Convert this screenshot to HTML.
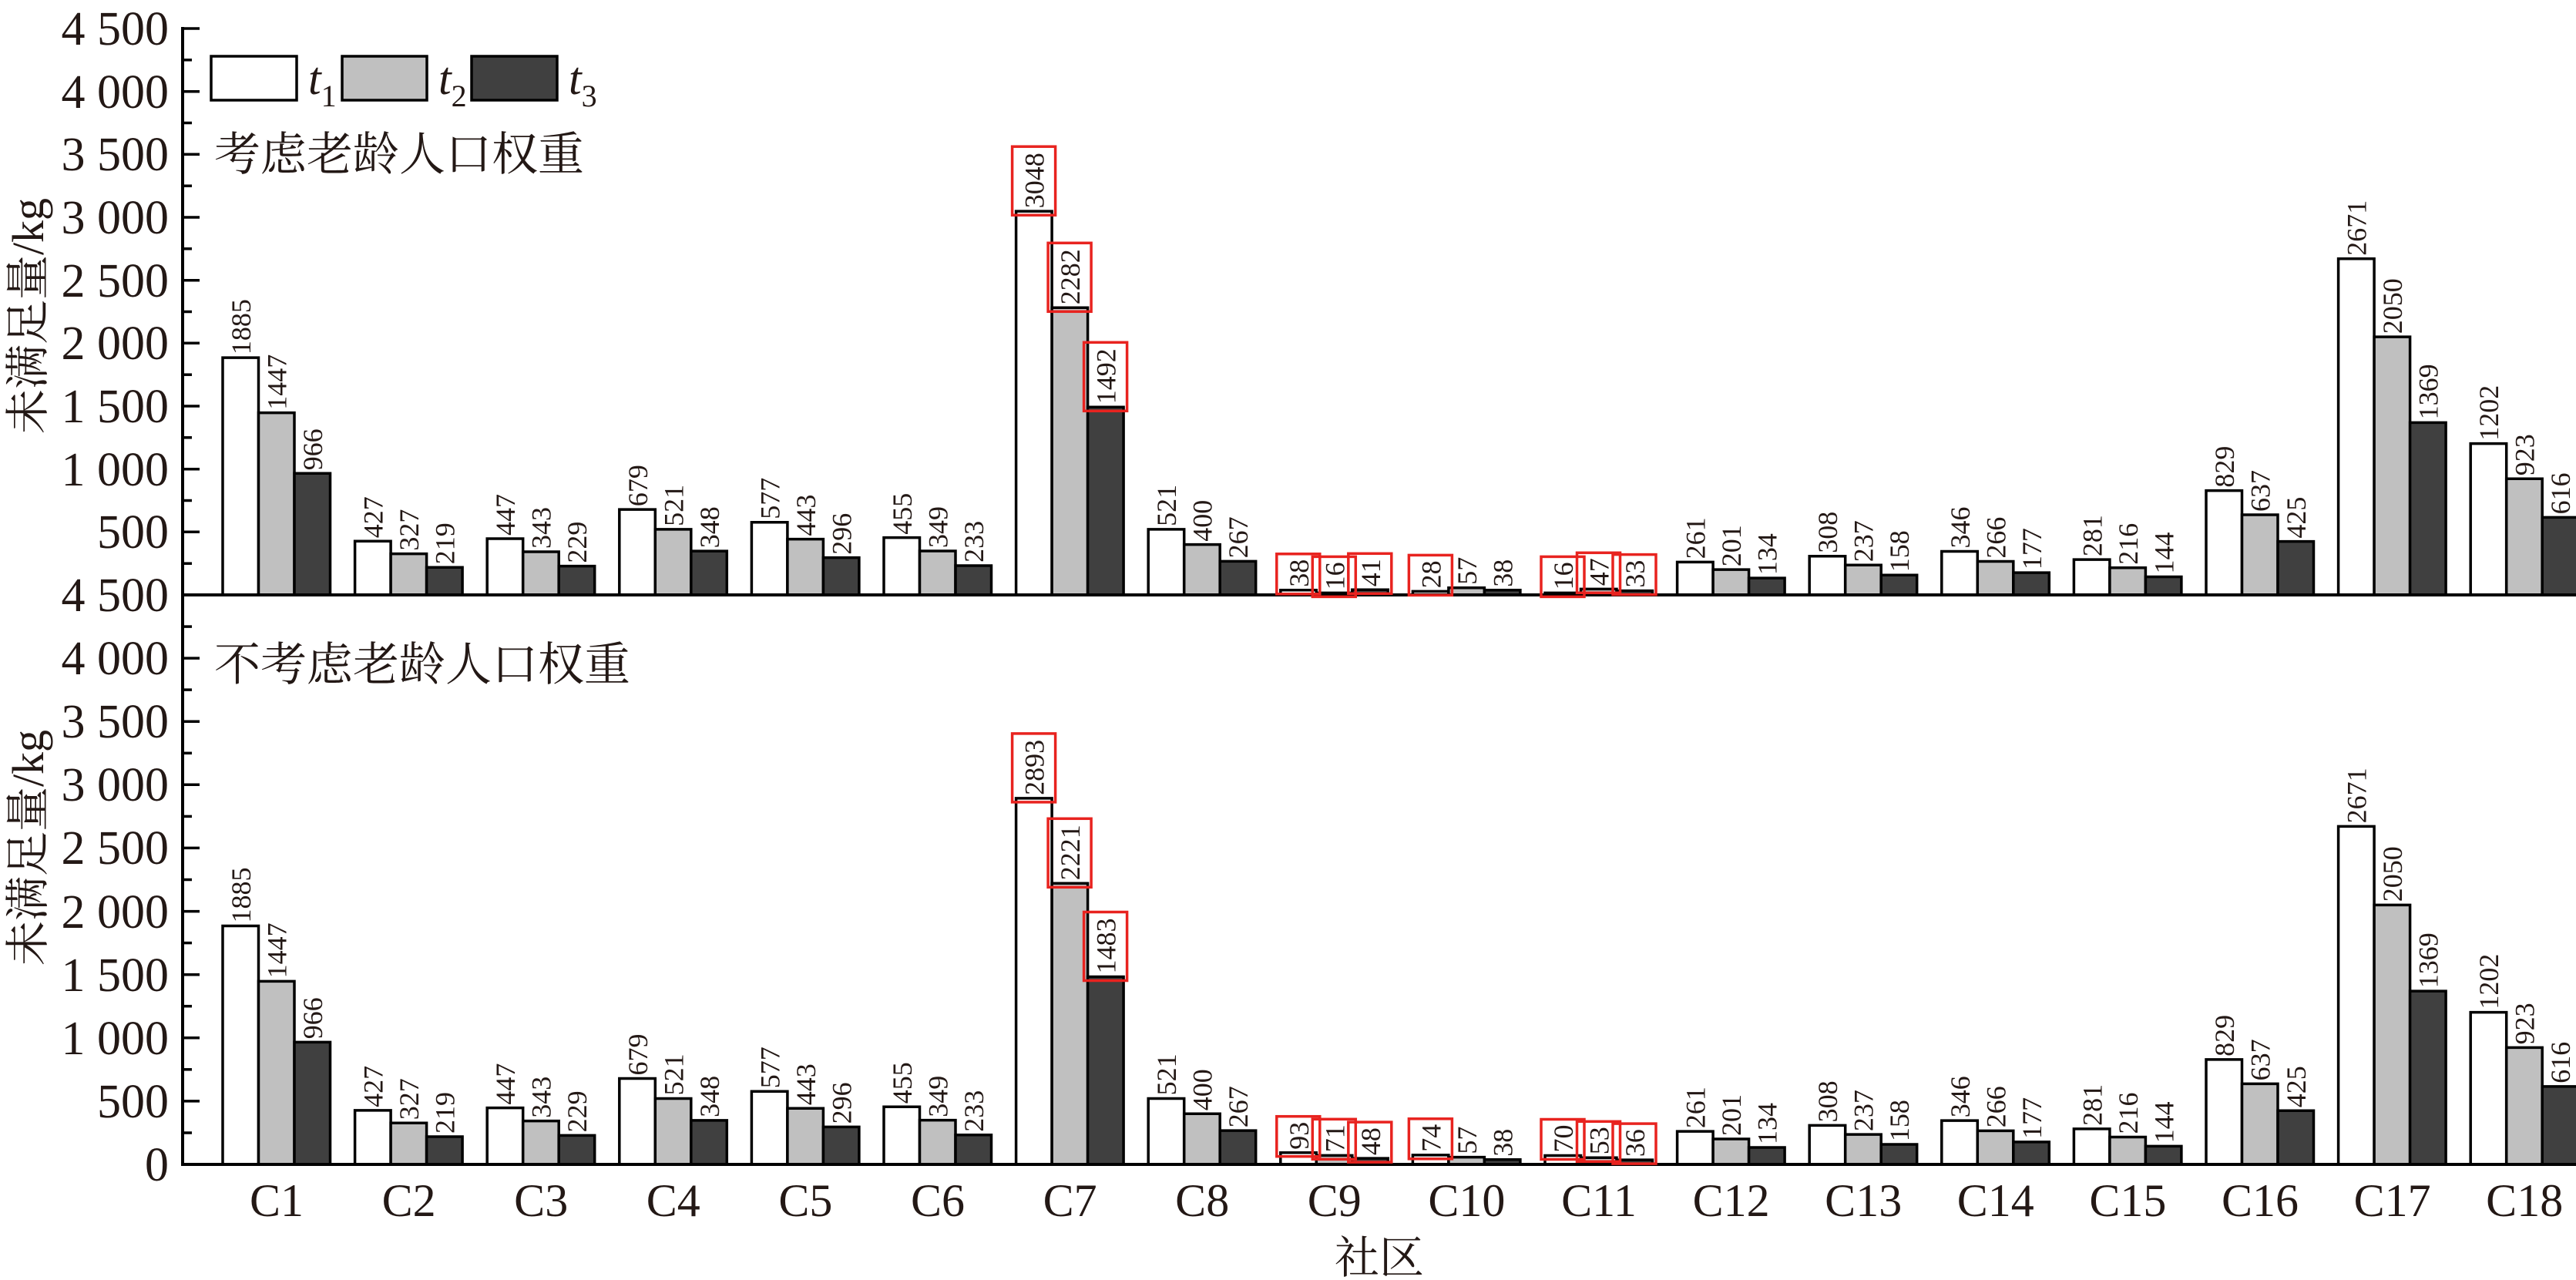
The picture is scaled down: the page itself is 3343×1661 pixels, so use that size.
<!DOCTYPE html>
<html><head><meta charset="utf-8"><style>
html,body{margin:0;padding:0;background:#fff;}
svg{display:block;}
text{font-family:"Liberation Serif","Noto Serif CJK SC",serif;fill:#231815;}
.cjk{font-family:"Liberation Serif","Noto Serif CJK SC","Noto Sans CJK SC",serif;}
.tk{font-size:62px;text-anchor:end;}
.cat{font-size:60px;text-anchor:middle;}
.v{font-size:36px;}
.b rect{stroke:#000;stroke-width:3.5;vector-effect:non-scaling-stroke;}
.w{fill:#fff}.g{fill:#c0c0c0}.d{fill:#404040}
.rb{fill:none;stroke:#e8231f;stroke-width:3.5;}
</style></head><body>
<svg width="3343" height="1661" viewBox="0 0 3343 1661" xmlns="http://www.w3.org/2000/svg">
<rect width="3343" height="1661" fill="#fff"/>

<!-- TOP PANEL BARS -->
<g class="b" transform="translate(0,772) scale(1,-0.16333)">
<rect class="w" x="289" y="0" width="46.5" height="1885"/><rect class="g" x="335.5" y="0" width="46.5" height="1447"/><rect class="d" x="382" y="0" width="46.5" height="966"/>
<rect class="w" x="460.6" y="0" width="46.5" height="427"/><rect class="g" x="507.1" y="0" width="46.5" height="327"/><rect class="d" x="553.6" y="0" width="46.5" height="219"/>
<rect class="w" x="632.2" y="0" width="46.5" height="447"/><rect class="g" x="678.7" y="0" width="46.5" height="343"/><rect class="d" x="725.2" y="0" width="46.5" height="229"/>
<rect class="w" x="803.8" y="0" width="46.5" height="679"/><rect class="g" x="850.3" y="0" width="46.5" height="521"/><rect class="d" x="896.8" y="0" width="46.5" height="348"/>
<rect class="w" x="975.4" y="0" width="46.5" height="577"/><rect class="g" x="1021.9" y="0" width="46.5" height="443"/><rect class="d" x="1068.4" y="0" width="46.5" height="296"/>
<rect class="w" x="1147" y="0" width="46.5" height="455"/><rect class="g" x="1193.5" y="0" width="46.5" height="349"/><rect class="d" x="1240" y="0" width="46.5" height="233"/>
<rect class="w" x="1318.6" y="0" width="46.5" height="3048"/><rect class="g" x="1365.1" y="0" width="46.5" height="2282"/><rect class="d" x="1411.6" y="0" width="46.5" height="1492"/>
<rect class="w" x="1490.2" y="0" width="46.5" height="521"/><rect class="g" x="1536.7" y="0" width="46.5" height="400"/><rect class="d" x="1583.2" y="0" width="46.5" height="267"/>
<rect class="w" x="1661.8" y="0" width="46.5" height="38"/><rect class="g" x="1708.3" y="0" width="46.5" height="16"/><rect class="d" x="1754.8" y="0" width="46.5" height="41"/>
<rect class="w" x="1833.4" y="0" width="46.5" height="28"/><rect class="g" x="1879.9" y="0" width="46.5" height="57"/><rect class="d" x="1926.4" y="0" width="46.5" height="38"/>
<rect class="w" x="2005" y="0" width="46.5" height="16"/><rect class="g" x="2051.5" y="0" width="46.5" height="47"/><rect class="d" x="2098" y="0" width="46.5" height="33"/>
<rect class="w" x="2176.6" y="0" width="46.5" height="261"/><rect class="g" x="2223.1" y="0" width="46.5" height="201"/><rect class="d" x="2269.6" y="0" width="46.5" height="134"/>
<rect class="w" x="2348.2" y="0" width="46.5" height="308"/><rect class="g" x="2394.7" y="0" width="46.5" height="237"/><rect class="d" x="2441.2" y="0" width="46.5" height="158"/>
<rect class="w" x="2519.8" y="0" width="46.5" height="346"/><rect class="g" x="2566.3" y="0" width="46.5" height="266"/><rect class="d" x="2612.8" y="0" width="46.5" height="177"/>
<rect class="w" x="2691.4" y="0" width="46.5" height="281"/><rect class="g" x="2737.9" y="0" width="46.5" height="216"/><rect class="d" x="2784.4" y="0" width="46.5" height="144"/>
<rect class="w" x="2863" y="0" width="46.5" height="829"/><rect class="g" x="2909.5" y="0" width="46.5" height="637"/><rect class="d" x="2956" y="0" width="46.5" height="425"/>
<rect class="w" x="3034.6" y="0" width="46.5" height="2671"/><rect class="g" x="3081.1" y="0" width="46.5" height="2050"/><rect class="d" x="3127.6" y="0" width="46.5" height="1369"/>
<rect class="w" x="3206.2" y="0" width="46.5" height="1202"/><rect class="g" x="3252.7" y="0" width="46.5" height="923"/><rect class="d" x="3299.2" y="0" width="46.5" height="616"/>
</g>

<!-- BOTTOM PANEL BARS -->
<g class="b" transform="translate(0,1511) scale(1,-0.16422)">
<rect class="w" x="289" y="0" width="46.5" height="1885"/><rect class="g" x="335.5" y="0" width="46.5" height="1447"/><rect class="d" x="382" y="0" width="46.5" height="966"/>
<rect class="w" x="460.6" y="0" width="46.5" height="427"/><rect class="g" x="507.1" y="0" width="46.5" height="327"/><rect class="d" x="553.6" y="0" width="46.5" height="219"/>
<rect class="w" x="632.2" y="0" width="46.5" height="447"/><rect class="g" x="678.7" y="0" width="46.5" height="343"/><rect class="d" x="725.2" y="0" width="46.5" height="229"/>
<rect class="w" x="803.8" y="0" width="46.5" height="679"/><rect class="g" x="850.3" y="0" width="46.5" height="521"/><rect class="d" x="896.8" y="0" width="46.5" height="348"/>
<rect class="w" x="975.4" y="0" width="46.5" height="577"/><rect class="g" x="1021.9" y="0" width="46.5" height="443"/><rect class="d" x="1068.4" y="0" width="46.5" height="296"/>
<rect class="w" x="1147" y="0" width="46.5" height="455"/><rect class="g" x="1193.5" y="0" width="46.5" height="349"/><rect class="d" x="1240" y="0" width="46.5" height="233"/>
<rect class="w" x="1318.6" y="0" width="46.5" height="2893"/><rect class="g" x="1365.1" y="0" width="46.5" height="2221"/><rect class="d" x="1411.6" y="0" width="46.5" height="1483"/>
<rect class="w" x="1490.2" y="0" width="46.5" height="521"/><rect class="g" x="1536.7" y="0" width="46.5" height="400"/><rect class="d" x="1583.2" y="0" width="46.5" height="267"/>
<rect class="w" x="1661.8" y="0" width="46.5" height="93"/><rect class="g" x="1708.3" y="0" width="46.5" height="71"/><rect class="d" x="1754.8" y="0" width="46.5" height="48"/>
<rect class="w" x="1833.4" y="0" width="46.5" height="74"/><rect class="g" x="1879.9" y="0" width="46.5" height="57"/><rect class="d" x="1926.4" y="0" width="46.5" height="38"/>
<rect class="w" x="2005" y="0" width="46.5" height="70"/><rect class="g" x="2051.5" y="0" width="46.5" height="53"/><rect class="d" x="2098" y="0" width="46.5" height="36"/>
<rect class="w" x="2176.6" y="0" width="46.5" height="261"/><rect class="g" x="2223.1" y="0" width="46.5" height="201"/><rect class="d" x="2269.6" y="0" width="46.5" height="134"/>
<rect class="w" x="2348.2" y="0" width="46.5" height="308"/><rect class="g" x="2394.7" y="0" width="46.5" height="237"/><rect class="d" x="2441.2" y="0" width="46.5" height="158"/>
<rect class="w" x="2519.8" y="0" width="46.5" height="346"/><rect class="g" x="2566.3" y="0" width="46.5" height="266"/><rect class="d" x="2612.8" y="0" width="46.5" height="177"/>
<rect class="w" x="2691.4" y="0" width="46.5" height="281"/><rect class="g" x="2737.9" y="0" width="46.5" height="216"/><rect class="d" x="2784.4" y="0" width="46.5" height="144"/>
<rect class="w" x="2863" y="0" width="46.5" height="829"/><rect class="g" x="2909.5" y="0" width="46.5" height="637"/><rect class="d" x="2956" y="0" width="46.5" height="425"/>
<rect class="w" x="3034.6" y="0" width="46.5" height="2671"/><rect class="g" x="3081.1" y="0" width="46.5" height="2050"/><rect class="d" x="3127.6" y="0" width="46.5" height="1369"/>
<rect class="w" x="3206.2" y="0" width="46.5" height="1202"/><rect class="g" x="3252.7" y="0" width="46.5" height="923"/><rect class="d" x="3299.2" y="0" width="46.5" height="616"/>
</g>

<!-- AXES -->
<g stroke="#000" stroke-width="4" fill="none">
<line x1="237" y1="35" x2="237" y2="1513"/>
<line x1="235" y1="772" x2="3343" y2="772"/>
<line x1="235" y1="1511" x2="3343" y2="1511"/>
</g>
<g stroke="#000" stroke-width="3.5">
<!-- top major -->
<line x1="237" x2="259" y1="37" y2="37"/><line x1="237" x2="259" y1="118.7" y2="118.7"/><line x1="237" x2="259" y1="200.3" y2="200.3"/><line x1="237" x2="259" y1="282" y2="282"/><line x1="237" x2="259" y1="363.7" y2="363.7"/><line x1="237" x2="259" y1="445.3" y2="445.3"/><line x1="237" x2="259" y1="527" y2="527"/><line x1="237" x2="259" y1="608.7" y2="608.7"/><line x1="237" x2="259" y1="690.3" y2="690.3"/>
<!-- top minor -->
<line x1="237" x2="249" y1="77.8" y2="77.8"/><line x1="237" x2="249" y1="159.5" y2="159.5"/><line x1="237" x2="249" y1="241.2" y2="241.2"/><line x1="237" x2="249" y1="322.8" y2="322.8"/><line x1="237" x2="249" y1="404.5" y2="404.5"/><line x1="237" x2="249" y1="486.2" y2="486.2"/><line x1="237" x2="249" y1="567.8" y2="567.8"/><line x1="237" x2="249" y1="649.5" y2="649.5"/><line x1="237" x2="249" y1="731.2" y2="731.2"/>
<!-- bottom major -->
<line x1="237" x2="259" y1="854.1" y2="854.1"/><line x1="237" x2="259" y1="936.2" y2="936.2"/><line x1="237" x2="259" y1="1018.3" y2="1018.3"/><line x1="237" x2="259" y1="1100.4" y2="1100.4"/><line x1="237" x2="259" y1="1182.6" y2="1182.6"/><line x1="237" x2="259" y1="1264.7" y2="1264.7"/><line x1="237" x2="259" y1="1346.8" y2="1346.8"/><line x1="237" x2="259" y1="1428.9" y2="1428.9"/>
<!-- bottom minor -->
<line x1="237" x2="249" y1="813.1" y2="813.1"/><line x1="237" x2="249" y1="895.1" y2="895.1"/><line x1="237" x2="249" y1="977.3" y2="977.3"/><line x1="237" x2="249" y1="1059.4" y2="1059.4"/><line x1="237" x2="249" y1="1141.5" y2="1141.5"/><line x1="237" x2="249" y1="1223.6" y2="1223.6"/><line x1="237" x2="249" y1="1305.7" y2="1305.7"/><line x1="237" x2="249" y1="1387.8" y2="1387.8"/><line x1="237" x2="249" y1="1470" y2="1470"/>
</g>

<!-- TICK LABELS -->
<g class="tk">
<text x="219" y="58">4 500</text><text x="219" y="140">4 000</text><text x="219" y="221">3 500</text><text x="219" y="303">3 000</text><text x="219" y="385">2 500</text><text x="219" y="466">2 000</text><text x="219" y="548">1 500</text><text x="219" y="630">1 000</text><text x="219" y="711">500</text>
<text x="219" y="793">4 500</text>
<text x="219" y="875">4 000</text><text x="219" y="957">3 500</text><text x="219" y="1039">3 000</text><text x="219" y="1121">2 500</text><text x="219" y="1204">2 000</text><text x="219" y="1286">1 500</text><text x="219" y="1368">1 000</text><text x="219" y="1450">500</text><text x="219" y="1532">0</text>
</g>

<!-- Y titles -->
<text class="cjk" font-size="58" text-anchor="middle" transform="translate(56,410) rotate(-90)">未满足量/kg</text>
<text class="cjk" font-size="58" text-anchor="middle" transform="translate(56,1100) rotate(-90)">未满足量/kg</text>

<!-- Legend -->
<g stroke="#000" stroke-width="3.5">
<rect x="274" y="73" width="111" height="57" fill="#fff"/>
<rect x="444" y="73" width="110" height="57" fill="#c0c0c0"/>
<rect x="612" y="73" width="111" height="57" fill="#404040"/>
</g>
<text x="400" y="122" font-size="60" font-style="italic">t<tspan font-size="40" font-style="normal" dy="16">1</tspan></text>
<text x="569" y="122" font-size="60" font-style="italic">t<tspan font-size="40" font-style="normal" dy="16">2</tspan></text>
<text x="738" y="122" font-size="60" font-style="italic">t<tspan font-size="40" font-style="normal" dy="16">3</tspan></text>

<text class="cjk" x="278" y="221" font-size="60">考虑老龄人口权重</text>
<text class="cjk" x="278" y="883" font-size="60">不考虑老龄人口权重</text>

<!-- Category labels -->
<g class="cat">
<text x="359" y="1578">C1</text><text x="530.6" y="1578">C2</text><text x="702.2" y="1578">C3</text><text x="873.8" y="1578">C4</text><text x="1045.4" y="1578">C5</text><text x="1217" y="1578">C6</text><text x="1388.6" y="1578">C7</text><text x="1560.2" y="1578">C8</text><text x="1731.8" y="1578">C9</text><text x="1903.4" y="1578">C10</text><text x="2075" y="1578">C11</text><text x="2246.6" y="1578">C12</text><text x="2418.2" y="1578">C13</text><text x="2589.8" y="1578">C14</text><text x="2761.4" y="1578">C15</text><text x="2933" y="1578">C16</text><text x="3104.6" y="1578">C17</text><text x="3276.2" y="1578">C18</text>
</g>
<text class="cjk" x="1790" y="1652" font-size="58" text-anchor="middle">社区</text>

<!-- TOP VALUE LABELS -->
<g class="v">
<text transform="translate(325,460.1) rotate(-90)">1885</text><text transform="translate(371.5,531.7) rotate(-90)">1447</text><text transform="translate(418,610.2) rotate(-90)">966</text>
<text transform="translate(496.6,698.3) rotate(-90)">427</text><text transform="translate(543.1,714.6) rotate(-90)">327</text><text transform="translate(589.6,732.2) rotate(-90)">219</text>
<text transform="translate(668.2,695) rotate(-90)">447</text><text transform="translate(714.7,712) rotate(-90)">343</text><text transform="translate(761.2,730.6) rotate(-90)">229</text>
<text transform="translate(839.8,657.1) rotate(-90)">679</text><text transform="translate(886.3,682.9) rotate(-90)">521</text><text transform="translate(932.8,711.2) rotate(-90)">348</text>
<text transform="translate(1011.4,673.8) rotate(-90)">577</text><text transform="translate(1057.9,695.6) rotate(-90)">443</text><text transform="translate(1104.4,719.7) rotate(-90)">296</text>
<text transform="translate(1183,693.7) rotate(-90)">455</text><text transform="translate(1229.5,711) rotate(-90)">349</text><text transform="translate(1276,729.9) rotate(-90)">233</text>
<text transform="translate(1354.6,270.2) rotate(-90)">3048</text><text transform="translate(1401.1,395.3) rotate(-90)">2282</text><text transform="translate(1447.6,524.3) rotate(-90)">1492</text>
<text transform="translate(1526.2,682.9) rotate(-90)">521</text><text transform="translate(1572.7,702.7) rotate(-90)">400</text><text transform="translate(1619.2,724.4) rotate(-90)">267</text>
<text transform="translate(1697.8,761.8) rotate(-90)">38</text><text transform="translate(1744.3,765.4) rotate(-90)">16</text><text transform="translate(1790.8,761.3) rotate(-90)">41</text>
<text transform="translate(1869.4,763.4) rotate(-90)">28</text><text transform="translate(1915.9,758.7) rotate(-90)">57</text><text transform="translate(1962.4,761.8) rotate(-90)">38</text>
<text transform="translate(2041,765.4) rotate(-90)">16</text><text transform="translate(2087.5,760.3) rotate(-90)">47</text><text transform="translate(2134,762.6) rotate(-90)">33</text>
<text transform="translate(2212.6,725.4) rotate(-90)">261</text><text transform="translate(2259.1,735.2) rotate(-90)">201</text><text transform="translate(2305.6,746.1) rotate(-90)">134</text>
<text transform="translate(2384.2,717.7) rotate(-90)">308</text><text transform="translate(2430.7,729.3) rotate(-90)">237</text><text transform="translate(2477.2,742.2) rotate(-90)">158</text>
<text transform="translate(2555.8,711.5) rotate(-90)">346</text><text transform="translate(2602.3,724.6) rotate(-90)">266</text><text transform="translate(2648.8,739.1) rotate(-90)">177</text>
<text transform="translate(2727.4,722.1) rotate(-90)">281</text><text transform="translate(2773.9,732.7) rotate(-90)">216</text><text transform="translate(2820.4,744.5) rotate(-90)">144</text>
<text transform="translate(2899,632.6) rotate(-90)">829</text><text transform="translate(2945.5,664) rotate(-90)">637</text><text transform="translate(2992,698.6) rotate(-90)">425</text>
<text transform="translate(3070.6,331.7) rotate(-90)">2671</text><text transform="translate(3117.1,433.2) rotate(-90)">2050</text><text transform="translate(3163.6,544.4) rotate(-90)">1369</text>
<text transform="translate(3242.2,571.7) rotate(-90)">1202</text><text transform="translate(3288.7,617.2) rotate(-90)">923</text><text transform="translate(3335.2,667.4) rotate(-90)">616</text>
</g>

<!-- BOTTOM VALUE LABELS -->
<g class="v">
<text transform="translate(325,1197.5) rotate(-90)">1885</text><text transform="translate(371.5,1269.4) rotate(-90)">1447</text><text transform="translate(418,1348.3) rotate(-90)">966</text>
<text transform="translate(496.6,1436.9) rotate(-90)">427</text><text transform="translate(543.1,1453.3) rotate(-90)">327</text><text transform="translate(589.6,1471) rotate(-90)">219</text>
<text transform="translate(668.2,1433.6) rotate(-90)">447</text><text transform="translate(714.7,1450.7) rotate(-90)">343</text><text transform="translate(761.2,1469.4) rotate(-90)">229</text>
<text transform="translate(839.8,1395.5) rotate(-90)">679</text><text transform="translate(886.3,1421.4) rotate(-90)">521</text><text transform="translate(932.8,1449.9) rotate(-90)">348</text>
<text transform="translate(1011.4,1412.2) rotate(-90)">577</text><text transform="translate(1057.9,1434.3) rotate(-90)">443</text><text transform="translate(1104.4,1458.4) rotate(-90)">296</text>
<text transform="translate(1183,1432.3) rotate(-90)">455</text><text transform="translate(1229.5,1449.7) rotate(-90)">349</text><text transform="translate(1276,1468.7) rotate(-90)">233</text>
<text transform="translate(1354.6,1031.9) rotate(-90)">2893</text><text transform="translate(1401.1,1142.3) rotate(-90)">2221</text><text transform="translate(1447.6,1263.5) rotate(-90)">1483</text>
<text transform="translate(1526.2,1421.4) rotate(-90)">521</text><text transform="translate(1572.7,1441.3) rotate(-90)">400</text><text transform="translate(1619.2,1463.2) rotate(-90)">267</text>
<text transform="translate(1697.8,1491.7) rotate(-90)">93</text><text transform="translate(1744.3,1495.3) rotate(-90)">71</text><text transform="translate(1790.8,1499.1) rotate(-90)">48</text>
<text transform="translate(1869.4,1494.8) rotate(-90)">74</text><text transform="translate(1915.9,1497.6) rotate(-90)">57</text><text transform="translate(1962.4,1500.8) rotate(-90)">38</text>
<text transform="translate(2041,1495.5) rotate(-90)">70</text><text transform="translate(2087.5,1498.3) rotate(-90)">53</text><text transform="translate(2134,1501.1) rotate(-90)">36</text>
<text transform="translate(2212.6,1464.1) rotate(-90)">261</text><text transform="translate(2259.1,1474) rotate(-90)">201</text><text transform="translate(2305.6,1485) rotate(-90)">134</text>
<text transform="translate(2384.2,1456.4) rotate(-90)">308</text><text transform="translate(2430.7,1468.1) rotate(-90)">237</text><text transform="translate(2477.2,1481.1) rotate(-90)">158</text>
<text transform="translate(2555.8,1450.2) rotate(-90)">346</text><text transform="translate(2602.3,1463.3) rotate(-90)">266</text><text transform="translate(2648.8,1477.9) rotate(-90)">177</text>
<text transform="translate(2727.4,1460.9) rotate(-90)">281</text><text transform="translate(2773.9,1471.5) rotate(-90)">216</text><text transform="translate(2820.4,1483.4) rotate(-90)">144</text>
<text transform="translate(2899,1370.9) rotate(-90)">829</text><text transform="translate(2945.5,1402.4) rotate(-90)">637</text><text transform="translate(2992,1437.2) rotate(-90)">425</text>
<text transform="translate(3070.6,1068.4) rotate(-90)">2671</text><text transform="translate(3117.1,1170.3) rotate(-90)">2050</text><text transform="translate(3163.6,1282.2) rotate(-90)">1369</text>
<text transform="translate(3242.2,1309.6) rotate(-90)">1202</text><text transform="translate(3288.7,1355.4) rotate(-90)">923</text><text transform="translate(3335.2,1405.8) rotate(-90)">616</text>
</g>

<!-- RED BOXES TOP -->
<g class="rb">
<rect x="1313.6" y="190.2" width="56" height="89"/>
<rect x="1360.1" y="315.3" width="56" height="89"/>
<rect x="1406.6" y="444.3" width="56" height="89"/>
<rect x="1656.8" y="718.8" width="56" height="52"/>
<rect x="1703.3" y="722.4" width="56" height="52"/>
<rect x="1749.8" y="718.3" width="56" height="52"/>
<rect x="1828.4" y="720.4" width="56" height="52"/>
<rect x="2000" y="722.4" width="56" height="52"/>
<rect x="2046.5" y="717.3" width="56" height="52"/>
<rect x="2093" y="719.6" width="56" height="52"/>
</g>
<!-- RED BOXES BOTTOM -->
<g class="rb">
<rect x="1313.6" y="951.9" width="56" height="89"/>
<rect x="1360.1" y="1062.3" width="56" height="89"/>
<rect x="1406.6" y="1183.5" width="56" height="89"/>
<rect x="1656.8" y="1448.7" width="56" height="52"/>
<rect x="1703.3" y="1452.3" width="56" height="52"/>
<rect x="1749.8" y="1456.1" width="56" height="52"/>
<rect x="1828.4" y="1451.8" width="56" height="52"/>
<rect x="2000" y="1452.5" width="56" height="52"/>
<rect x="2046.5" y="1455.3" width="56" height="52"/>
<rect x="2093" y="1458.1" width="56" height="52"/>
</g>
</svg>
</body></html>
